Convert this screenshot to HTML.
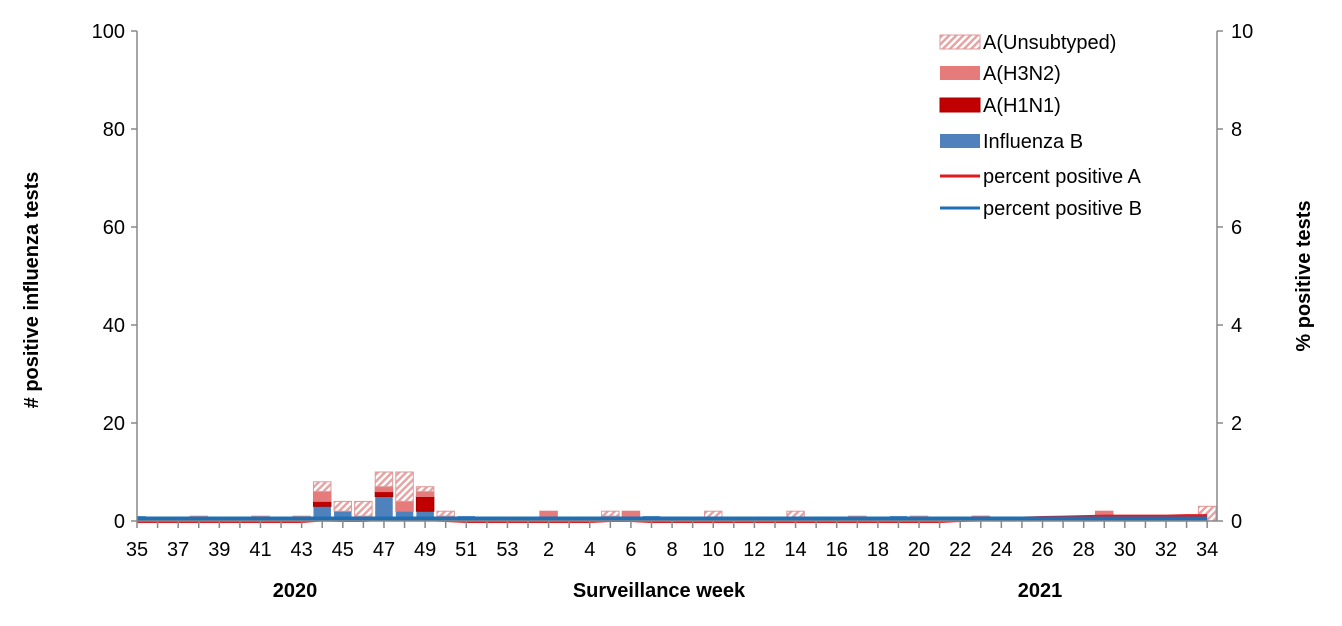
<!DOCTYPE html>
<html><head><meta charset="utf-8"><style>
body{margin:0;background:#fff;font-family:"Liberation Sans",sans-serif}
</style></head><body>
<svg id="c" width="1342" height="621" xmlns="http://www.w3.org/2000/svg" font-family="Liberation Sans, sans-serif">
<defs>
<pattern id="hatch" width="5" height="5" patternUnits="userSpaceOnUse" patternTransform="rotate(45)">
<rect width="5" height="5" fill="#fff"/><rect width="2.5" height="5" fill="#e6a4a4"/>
</pattern>
</defs>
<g id="bars"></g>
<g id="lines"></g>
<g id="axes"></g>
<text x="38" y="290" font-size="20" font-weight="bold" text-anchor="middle" transform="rotate(-90 38 290)"># positive influenza tests</text>
<text x="1310" y="276" font-size="20" font-weight="bold" text-anchor="middle" transform="rotate(-90 1310 276)">% positive tests</text>
<text x="659" y="597" font-size="20" font-weight="bold" text-anchor="middle">Surveillance  week</text>
<text x="295" y="597" font-size="20" font-weight="bold" text-anchor="middle">2020</text>
<text x="1040" y="597" font-size="20" font-weight="bold" text-anchor="middle">2021</text>
<g font-size="20">
<rect x="940" y="35" width="40" height="14" fill="url(#hatch)" stroke="#d99"/>
<text x="983" y="49">A(Unsubtyped)</text>
<rect x="940" y="66" width="40" height="14" fill="#e57b7b"/>
<text x="983" y="80">A(H3N2)</text>
<rect x="940" y="98" width="40" height="14" fill="#c00000" stroke="#a00"/>
<text x="983" y="112">A(H1N1)</text>
<rect x="940" y="134" width="40" height="14" fill="#4f81bd"/>
<text x="983" y="148">Influenza B</text>
<line x1="940" y1="176" x2="980" y2="176" stroke="#e31a1c" stroke-width="3"/>
<text x="983" y="183">percent positive A</text>
<line x1="940" y1="208" x2="980" y2="208" stroke="#1f6fb5" stroke-width="3"/>
<text x="983" y="215">percent positive B</text>
</g>
</svg>
<script>
const weeks=[35,36,37,38,39,40,41,42,43,44,45,46,47,48,49,50,51,52,53,1,2,3,4,5,6,7,8,9,10,11,12,13,14,15,16,17,18,19,20,21,22,23,24,25,26,27,28,29,30,31,32,33,34];
const fluB =[1,0,0,0,0,0,0,0,0,3,2,1,5,2,2,1,1,0,0,0,0,0,0,0,0,1,0,0,0,0,0,0,0,0,0,0,0,1,0,0,0,0,0,0,0,0,0,0,0,0,0,1,0];
const h1n1 =[0,0,0,0,0,0,0,0,0,1,0,0,1,0,3,0,0,0,0,0,0,0,0,1,0,0,0,0,0,0,0,0,0,0,0,0,0,0,0,0,0,0,0,0,0,0,0,0,0,0,0,0,0];
const h3n2 =[0,0,0,0,0,0,0,0,0,2,0,0,1,2,1,0,0,0,0,0,2,0,0,0,2,0,0,0,0,0,0,0,0,0,0,0,0,0,0,0,0,1,0,0,0,0,0,2,0,0,0,0,0];
const unsub=[0,0,0,1,0,0,1,0,1,2,2,3,3,6,1,1,0,0,0,0,0,0,0,1,0,0,0,0,2,0,0,0,2,0,0,1,0,0,1,0,0,0,0,0,0,0,0,0,0,0,0,0,3];
const pctA =[0,0,0,0,0,0,0,0,0,0.03,0.02,0.02,0.05,0.05,0.04,0.02,0,0,0,0,0,0,0,0.02,0.02,0,0,0,0,0,0,0,0,0,0,0,0,0,0,0,0.02,0.03,0.04,0.05,0.06,0.07,0.08,0.09,0.09,0.09,0.09,0.1,0.1];
const pctB =[0.05,0.05,0.05,0.05,0.05,0.05,0.05,0.05,0.05,0.05,0.05,0.05,0.05,0.05,0.05,0.05,0.05,0.05,0.05,0.05,0.05,0.05,0.05,0.05,0.05,0.05,0.05,0.05,0.05,0.05,0.05,0.05,0.05,0.05,0.05,0.05,0.05,0.05,0.05,0.05,0.05,0.05,0.05,0.05,0.05,0.05,0.05,0.05,0.05,0.05,0.05,0.05,0.05];
const yTicks=[0,20,40,60,80,100];
const y2Ticks=[0,2,4,6,8,10];
const NS="http://www.w3.org/2000/svg";
const L=137,R=1217,T=31,B=521,step=20.58,bw=17.5;
const x=i=>L+i*step;
const y=v=>B-(B-T)*v/100;
const y2=v=>B-(B-T)*v/10;
function mk(tag,attrs,parent){const e=document.createElementNS(NS,tag);for(const k in attrs)e.setAttribute(k,attrs[k]);parent.appendChild(e);return e;}
const gb=document.getElementById('bars'),gl=document.getElementById('lines'),ga=document.getElementById('axes');
const series=[[fluB,'#4f81bd','none'],[h1n1,'#c00000','#a00000'],[h3n2,'#e57b7b','#e57b7b'],[unsub,'url(#hatch)','#d99']];
weeks.forEach((w,i)=>{
  let base=0;
  series.forEach(([arr,fill,st],si)=>{
    const v=arr[i]; if(!v) return;
    const x0=Math.max(L,x(i)-bw/2), x1=x(i)+bw/2;
    const r=mk('rect',{x:x0,y:y(base+v),width:x1-x0,height:y(base)-y(base+v),fill:fill,stroke:st,'stroke-width':1},gb);
    
    
    base+=v;
  });
});
function line(arr,color,name){
  const p=mk('polyline',{points:arr.map((v,i)=>x(i)+','+y2(v)).join(' '),fill:'none',stroke:color,'stroke-width':4},gl);
  
  
}
line(pctA,'#e31a1c','line-pct-a');
line(pctB,'#1f6fb5','line-pct-b');
const ax=mk('line',{x1:L,y1:T,x2:L,y2:B,stroke:'#888','stroke-width':1.5},ga);


const ax2=mk('line',{x1:R,y1:T,x2:R,y2:B,stroke:'#888','stroke-width':1.5},ga);


const xa=mk('line',{x1:L,y1:B,x2:R,y2:B,stroke:'#888','stroke-width':1.5},ga);


yTicks.forEach(v=>{
  mk('line',{x1:L-6,y1:y(v),x2:L,y2:y(v),stroke:'#888','stroke-width':1.5},ga);
  const t=mk('text',{x:L-12,y:y(v)+7,'font-size':20,'text-anchor':'end'},ga);t.textContent=v;
  
  
});
y2Ticks.forEach(v=>{
  mk('line',{x1:R,y1:y2(v),x2:R+6,y2:y2(v),stroke:'#888','stroke-width':1.5},ga);
  const t=mk('text',{x:R+14,y:y2(v)+7,'font-size':20},ga);t.textContent=v;
  
  
});
weeks.forEach((w,i)=>{
  mk('line',{x1:x(i),y1:B,x2:x(i),y2:B+7,stroke:'#888','stroke-width':1.5},ga);
  if(i%2===0){const t=mk('text',{x:x(i),y:B+35,'font-size':20,'text-anchor':'middle'},ga);t.textContent=w;
  
  }
});
</script>
</body></html>
